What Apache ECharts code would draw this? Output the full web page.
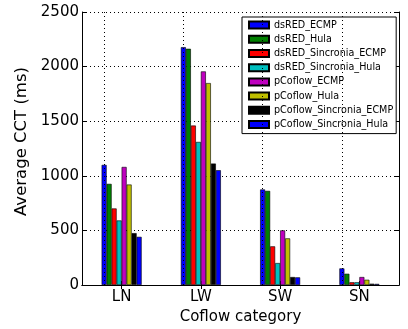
<!DOCTYPE html>
<html>
<head>
<meta charset="utf-8">
<script src="https://cdn.jsdelivr.net/npm/echarts@6/dist/echarts.min.js"></script>
<style>html,body{margin:0;padding:0;background:#fff}#c{width:408px;height:329px}</style>
</head>
<body>
<div id="c"></div>
<script>
var categories = ['LN', 'LW', 'SW', 'SN'];
var seriesNames = ['dsRED_ECMP', 'dsRED_Hula', 'dsRED_Sincronia_ECMP', 'dsRED_Sincronia_Hula',
  'pCoflow_ECMP', 'pCoflow_Hula', 'pCoflow_Sincronia_ECMP', 'pCoflow_Sincronia_Hula'];
var dsRED_ECMP = [1100, 2178, 875, 152];
var dsRED_Hula = [926, 2163, 862, 103];
var dsRED_Sincronia_ECMP = [701, 1460, 354, 25];
var dsRED_Sincronia_Hula = [591, 1310, 201, 25];
var pCoflow_ECMP = [1081, 1956, 500, 73];
var pCoflow_Hula = [920, 1849, 427, 48];
var pCoflow_Sincronia_ECMP = [475, 1112, 73, 12];
var pCoflow_Sincronia_Hula = [441, 1051, 70, 10];
var yTicks = [0, 500, 1000, 1500, 2000, 2500];
var colors = ['#0000ff', '#008000', '#ff0000', '#00bfbf', '#bf00bf', '#bfbf00', '#000000', '#0000ff'];
var values = [dsRED_ECMP, dsRED_Hula, dsRED_Sincronia_ECMP, dsRED_Sincronia_Hula,
  pCoflow_ECMP, pCoflow_Hula, pCoflow_Sincronia_ECMP, pCoflow_Sincronia_Hula];

var font = 'DejaVu Sans';
var dotted = {color: '#000', width: 1, type: [1, 3]};
var series = seriesNames.map(function (n, i) {
  var s = {
    name: n, type: 'bar', data: values[i], barWidth: 5, barGap: '0%',
    itemStyle: {color: colors[i], borderColor: '#000', borderWidth: 0.6},
    emphasis: {disabled: true}
  };
  if (i === 0) {
    s.markLine = {
      silent: true, symbol: 'none', label: {show: false},
      lineStyle: dotted,
      data: categories.map(function (c) { return {xAxis: c}; })
    };
  }
  return s;
});

var chart = echarts.init(document.getElementById('c'), null, {renderer: 'canvas'});
chart.setOption({
  animation: false,
  textStyle: {fontFamily: font},
  grid: {left: 82, top: 12, right: 9, bottom: 44, containLabel: false, outerBoundsMode: 'none'},
  legend: {
    orient: 'vertical', left: 242, top: 17,
    padding: [1, 3, 2, 6],
    itemWidth: 20, itemHeight: 7, itemGap: 0, itemTextGap: 7,
    icon: 'rect',
    backgroundColor: '#fff', borderColor: '#000', borderWidth: 1, borderRadius: 0,
    textStyle: {fontFamily: font, fontSize: 9.6, color: '#000', lineHeight: 14.2},
    data: seriesNames, selectedMode: false
  },
  xAxis: [{
    type: 'category', data: categories, position: 'bottom',
    name: 'Coflow category', nameLocation: 'middle', nameGap: 25,
    nameTextStyle: {fontFamily: font, fontSize: 15, color: '#000'},
    axisLine: {lineStyle: {color: '#000', width: 1}},
    axisTick: {show: true, inside: true, alignWithLabel: true, length: 4, lineStyle: {color: '#000'}},
    axisLabel: {fontFamily: font, fontSize: 15, color: '#000', margin: 5},
    splitLine: {show: false}
  }, {
    type: 'category', data: categories, position: 'top',
    axisLine: {lineStyle: {color: '#000', width: 1}},
    axisTick: {show: true, inside: true, alignWithLabel: true, length: 4, lineStyle: {color: '#000'}},
    axisLabel: {show: false}, splitLine: {show: false}
  }],
  yAxis: [{
    type: 'value', min: 0, max: 2500, interval: 500, position: 'left',
    name: 'Average CCT (ms)', nameLocation: 'middle', nameGap: 47,
    nameTextStyle: {fontFamily: font, fontSize: 16.5, color: '#000', padding: [0, 0, 0, 14]},
    axisLine: {show: true, lineStyle: {color: '#000', width: 1}},
    axisTick: {show: true, inside: true, length: 4, lineStyle: {color: '#000'}},
    axisLabel: {fontFamily: font, fontSize: 15, color: '#000', margin: 3,
      formatter: function (v) { return yTicks.indexOf(v) >= 0 ? String(v) : ''; }},
    splitLine: {show: true, lineStyle: dotted}
  }, {
    type: 'value', min: 0, max: 2500, interval: 500, position: 'right',
    axisLine: {show: true, lineStyle: {color: '#000', width: 1}},
    axisTick: {show: true, inside: true, length: 4, lineStyle: {color: '#000'}},
    axisLabel: {show: false}, splitLine: {show: false}
  }],
  series: series
});
</script>
</body>
</html>
